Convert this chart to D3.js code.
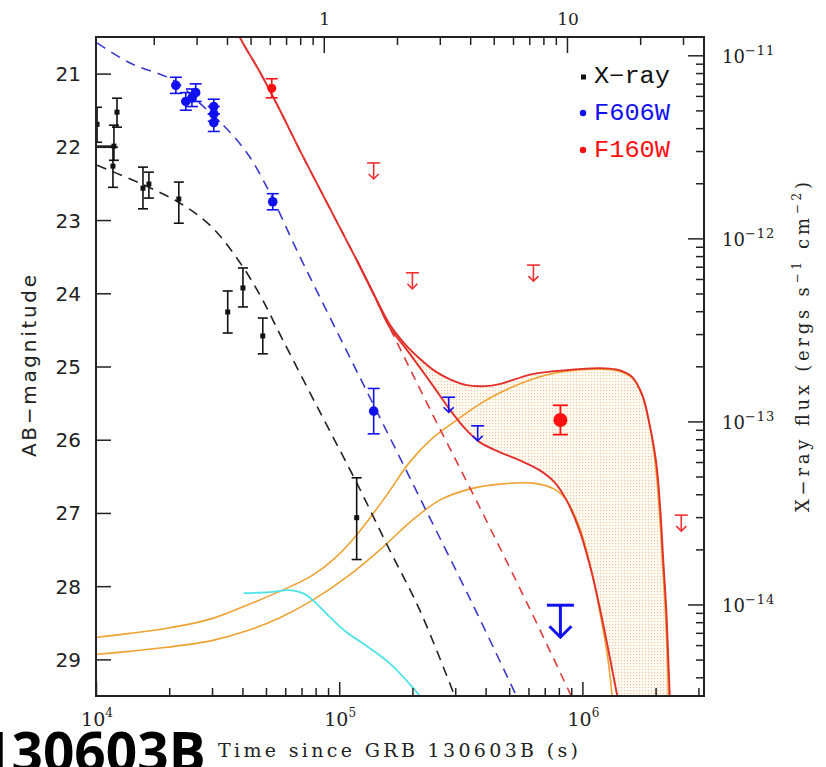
<!DOCTYPE html>
<html><head><meta charset="utf-8">
<script src="https://cdn.jsdelivr.net/npm/d3@7"></script>
<style>body{margin:0;background:#fff}svg{display:block}</style>
</head><body><svg id="c" width="826" height="767"></svg>
<script>
// ---------------- DATA ----------------
// X-ray (flux, erg s^-1 cm^-2)
const xrayT   = [1.01e4, 1.22e4, 1.185e4, 1.174e4, 1.56e4, 1.65e4, 2.19e4, 3.48e4, 4.02e4, 4.85e4, 1.18e5];
const xrayF   = [4.20e-12, 4.89e-12, 3.19e-12, 2.48e-12, 1.88e-12, 1.98e-12, 1.64e-12, 3.96e-13, 5.36e-13, 2.93e-13, 2.98e-14];
const xrayFhi = [5.20e-12, 5.83e-12, 4.15e-12, 3.15e-12, 2.45e-12, 2.30e-12, 2.03e-12, 5.16e-13, 6.89e-13, 3.67e-13, 4.92e-14];
const xrayFlo = [3.35e-12, 4.05e-12, 2.67e-12, 1.90e-12, 1.45e-12, 1.66e-12, 1.21e-12, 3.04e-13, 4.22e-13, 2.34e-13, 1.76e-14];
const xrayTlo = [null, null, 1.0e4, null, null, null, null, null, null, null, null];
// F606W (AB mag)
const f606T = [2.13e4, 2.34e4, 2.48e4, 2.57e4, 3.05e4, 3.05e4, 3.05e4, 5.33e4, 1.386e5];
const f606M = [21.16, 21.38, 21.33, 21.26, 21.45, 21.55, 21.67, 22.75, 25.61];
const f606E = [0.11, 0.12, 0.12, 0.12, 0.10, 0.10, 0.12, 0.11, 0.31];
const f606LimT = [2.82e5, 3.71e5];
const f606LimM = [25.42, 25.81];
const f606DeepLimT = [8.12e5];
const f606DeepLimM = [28.26];
// F160W (AB mag)
const f160T = [5.28e4];
const f160M = [21.20];
const f160E = [0.13];
const f160LateT = [8.12e5];
const f160LateM = [25.73];
const f160LateE = [0.20];
const f160LimT = [1.386e5, 2.0e5, 6.29e5, 2.55e6];
const f160LimM = [22.22, 23.72, 23.615, 27.03];
// model curves
const xrayModelT = [1.01e4, 1.516e4, 2.21e4, 2.94e4, 3.79e4, 4.72e4, 5.86e4, 8.32e4, 1.18e5, 1.61e5, 2.14e5, 2.98e5];
const xrayModelF = [2.51e-12, 2.00e-12, 1.56e-12, 1.18e-12, 7.82e-13, 4.91e-13, 2.79e-13, 1.13e-13, 4.62e-14, 1.99e-14, 9.37e-15, 3.18e-15];
const f606ModelT = [1.01e4, 1.379e4, 2.07e4, 2.67e4, 3.55e4, 4.29e4, 5.04e4, 5.54e4, 6.69e4, 1.005e5, 1.467e5, 2.20e5, 3.44e5, 5.36e5];
const f606ModelM = [20.58, 20.855, 21.087, 21.402, 21.798, 22.139, 22.549, 22.822, 23.41, 24.598, 25.691, 26.866, 28.164, 29.503];
const agT = [3.6e4, 3.90e4, 4.72e4, 5.70e4, 6.88e4, 9.14e4, 1.18e5, 1.61e5, 2.35e5, 3.78e5, 6.06e5, 9.01e5];
const agM = [20.2, 20.5, 20.978, 21.497, 22.044, 22.836, 23.546, 24.462, 25.568, 26.921, 28.30, 29.503];
const redUpT = [3.6e4, 3.90e4, 4.72e4, 5.70e4, 6.88e4, 9.14e4, 1.18e5, 1.40e5, 1.61e5, 1.86e5, 2.14e5, 2.47e5, 2.84e5, 3.34e5, 3.96e5, 4.56e5, 6.23e5, 8.60e5, 1.174e6, 1.419e6, 1.605e6, 1.764e6, 1.885e6, 2.013e6, 2.091e6, 2.150e6, 2.213e6, 2.256e6, 2.290e6];
const redUpM = [20.2, 20.5, 20.978, 21.497, 22.044, 22.836, 23.546, 24.038, 24.42, 24.69, 24.89, 25.06, 25.172, 25.254, 25.268, 25.240, 25.104, 25.049, 25.022, 25.049, 25.145, 25.391, 25.773, 26.320, 26.962, 27.645, 28.328, 29.011, 29.55];
const redLowT = [1.18e5, 1.40e5, 1.61e5, 1.86e5, 2.14e5, 2.42e5, 2.82e5, 3.28e5, 3.78e5, 4.56e5, 5.51e5, 6.66e5, 7.67e5, 8.60e5, 9.72e5, 1.099e6, 1.208e6, 1.303e6, 1.40e6];
const redLowM = [23.546, 24.04, 24.462, 24.735, 25.008, 25.254, 25.568, 25.842, 26.033, 26.169, 26.279, 26.415, 26.579, 26.825, 27.235, 27.85, 28.464, 29.011, 29.55];
const knUpT = [1.01e4, 1.379e4, 1.957e4, 3.02e4, 4.17e4, 6.26e4, 7.78e4, 9.58e4, 1.18e5, 1.567e5, 1.948e5, 2.42e5, 3.04e5, 3.78e5, 4.56e5, 5.51e5, 7.11e5, 8.60e5, 1.174e6, 1.419e6, 1.605e6, 1.764e6, 1.885e6, 1.994e6, 2.071e6, 2.131e6, 2.192e6, 2.234e6, 2.26e6];
const knUpM = [28.697, 28.645, 28.575, 28.44, 28.26, 28.01, 27.85, 27.62, 27.30, 26.757, 26.306, 25.978, 25.732, 25.514, 25.363, 25.240, 25.117, 25.063, 25.036, 25.063, 25.158, 25.404, 25.787, 26.32, 26.962, 27.645, 28.328, 29.011, 29.55];
const knLowT = [1.01e4, 1.379e4, 1.957e4, 3.02e4, 4.17e4, 5.70e4, 7.78e4, 1.073e5, 1.467e5, 2.00e5, 2.59e5, 3.43e5, 4.56e5, 6.23e5, 7.67e5, 8.60e5, 9.72e5, 1.089e6, 1.186e6, 1.267e6, 1.33e6];
const knLowM = [28.929, 28.89, 28.835, 28.74, 28.61, 28.43, 28.19, 27.877, 27.508, 27.098, 26.825, 26.675, 26.607, 26.593, 26.675, 26.825, 27.194, 27.781, 28.396, 28.943, 29.55];
const cyanT = [4.05e4, 5.18e4, 6.26e4, 7.08e4, 7.78e4, 9.14e4, 1.073e5, 1.249e5, 1.61e5, 2.00e5, 2.20e5];
const cyanM = [28.096, 28.082, 28.055, 28.096, 28.19, 28.42, 28.63, 28.78, 29.05, 29.38, 29.55];
// ticks
const magTicks = [21, 22, 23, 24, 25, 26, 27, 28, 29];
const timeMajor = [1e4, 1e5, 1e6];
const timeMinor = [2e4,3e4,4e4,5e4,6e4,7e4,8e4,9e4,2e5,3e5,4e5,5e5,6e5,7e5,8e5,9e5,2e6,3e6];
const dayMajor = [1, 10];
const dayMinor = [0.2,0.3,0.4,0.5,0.6,0.7,0.8,0.9,2,3,4,5,6,7,8,9,20,30];
const fluxMajor = [1e-11, 1e-12, 1e-13, 1e-14];
const fluxMinor = [9e-12,8e-12,7e-12,6e-12,5e-12,4e-12,3e-12,2e-12,9e-13,8e-13,7e-13,6e-13,5e-13,4e-13,3e-13,2e-13,9e-14,8e-14,7e-14,6e-14,5e-14,4e-14,3e-14,2e-14,9e-15,8e-15,7e-15,6e-15,5e-15,4e-15];
const legendLabels = ["X\u2212ray", "F606W", "F160W"];

// ---------------- SCALES ----------------
const L = 96, R = 704, T = 37, B = 696;
const x = d3.scaleLog().domain([1e4, Math.pow(10, 6.5)]).range([L, R]);
const xd = d3.scaleLog().domain([1e4 / 86400, Math.pow(10, 6.5) / 86400]).range([L, R]);
const ym = d3.scaleLinear().domain([20.5, 29.5]).range([T, B]);
const yf = d3.scaleLog().domain([Math.pow(10, -10.9), Math.pow(10, -14.5)]).range([T, B]);

const svg = d3.select("#c");
const defs = svg.append("defs");
defs.append("clipPath").attr("id", "clip").append("rect").attr("x", L).attr("y", T).attr("width", R - L).attr("height", B - T);
const pat = defs.append("pattern").attr("id", "dots").attr("width", 3).attr("height", 3).attr("patternUnits", "userSpaceOnUse");
pat.append("rect").attr("width", 3).attr("height", 3).attr("fill", "#fffaf3");
pat.append("rect").attr("width", 1.1).attr("height", 1.1).attr("fill", "#f4c796");

const RED = "#ff1010", BLUE = "#1010f0", ORANGE = "#eea232", CYAN = "#4fe3e6";
const SERIF = "DejaVu Serif";
const lineM = d3.line().x(d => x(d[0])).y(d => ym(d[1])).curve(d3.curveCatmullRom.alpha(0.5));
const lineF = d3.line().x(d => x(d[0])).y(d => yf(d[1])).curve(d3.curveCatmullRom.alpha(0.5));

const plot = svg.append("g").attr("clip-path", "url(#clip)");

// shaded kilonova range
const upPts = d3.zip(redUpT, redUpM).filter(d => d[0] >= 1.40e5);
const lowRev = d3.zip(redLowT, redLowM).filter(d => d[0] >= 1.40e5).reverse();
plot.append("path").attr("d", lineM(upPts) + lineM(lowRev).replace(/^M/, "L") + "Z")
  .attr("fill", "url(#dots)").attr("stroke", "none");

// kilonova curves
plot.append("path").attr("d", lineM(d3.zip(knUpT, knUpM))).attr("fill", "none").attr("stroke", ORANGE).attr("stroke-width", 1.6);
plot.append("path").attr("d", lineM(d3.zip(knLowT, knLowM))).attr("fill", "none").attr("stroke", ORANGE).attr("stroke-width", 1.6);
plot.append("path").attr("d", lineM(d3.zip(cyanT, cyanM))).attr("fill", "none").attr("stroke", CYAN).attr("stroke-width", 1.8);

// afterglow dashed models
plot.append("path").attr("d", lineF(d3.zip(xrayModelT, xrayModelF))).attr("fill", "none").attr("stroke", "#222").attr("stroke-width", 1.6).attr("stroke-dasharray", "10,7");
plot.append("path").attr("d", lineM(d3.zip(f606ModelT, f606ModelM))).attr("fill", "none").attr("stroke", "#3a3acc").attr("stroke-width", 1.6).attr("stroke-dasharray", "10,7");
plot.append("path").attr("d", lineM(d3.zip(agT, agM))).attr("fill", "none").attr("stroke", "#e03a3a").attr("stroke-width", 1.6).attr("stroke-dasharray", "9,7");

// red total models
plot.append("path").attr("d", lineM(d3.zip(redLowT, redLowM))).attr("fill", "none").attr("stroke", "#e2302c").attr("stroke-width", 1.9);
plot.append("path").attr("d", lineM(d3.zip(redUpT, redUpM))).attr("fill", "none").attr("stroke", "#e2302c").attr("stroke-width", 1.9);

// helpers
function errbar(g, cx, y1, y2, cap, color, w) {
  g.append("line").attr("x1", cx).attr("x2", cx).attr("y1", y1).attr("y2", y2).attr("stroke", color).attr("stroke-width", w);
  [y1, y2].forEach(yy => g.append("line").attr("x1", cx - cap).attr("x2", cx + cap).attr("y1", yy).attr("y2", yy).attr("stroke", color).attr("stroke-width", w));
}
function limit(g, cx, cy, wBar, len, head, color, w) {
  g.append("line").attr("x1", cx - wBar).attr("x2", cx + wBar).attr("y1", cy).attr("y2", cy).attr("stroke", color).attr("stroke-width", w);
  g.append("line").attr("x1", cx).attr("x2", cx).attr("y1", cy).attr("y2", cy + len).attr("stroke", color).attr("stroke-width", w);
  g.append("polyline").attr("points", `${cx - head},${cy + len - head} ${cx},${cy + len} ${cx + head},${cy + len - head}`)
    .attr("fill", "none").attr("stroke", color).attr("stroke-width", w);
}

const pts = svg.append("g").attr("clip-path", "url(#clip)");
// X-ray
xrayT.forEach((t, i) => {
  errbar(pts, x(t), yf(xrayFhi[i]), yf(xrayFlo[i]), 5, "#111", 1.6);
  if (xrayTlo[i]) pts.append("line").attr("x1", x(xrayTlo[i])).attr("x2", x(t)).attr("y1", yf(xrayF[i])).attr("y2", yf(xrayF[i])).attr("stroke", "#111").attr("stroke-width", 1.6);
  pts.append("rect").attr("x", x(t) - 2.5).attr("y", yf(xrayF[i]) - 2.5).attr("width", 5).attr("height", 5).attr("fill", "#111");
});
// F606W
f606T.forEach((t, i) => {
  errbar(pts, x(t), ym(f606M[i] - f606E[i]), ym(f606M[i] + f606E[i]), 6, BLUE, 1.6);
  pts.append("circle").attr("cx", x(t)).attr("cy", ym(f606M[i])).attr("r", 4.8).attr("fill", BLUE);
});
f606LimT.forEach((t, i) => limit(pts, x(t), ym(f606LimM[i]), 6.5, 15, 5, BLUE, 1.6));
f606DeepLimT.forEach((t, i) => limit(pts, x(t), ym(f606DeepLimM[i]), 13.5, 32, 11, BLUE, 3));
// F160W
f160T.forEach((t, i) => {
  errbar(pts, x(t), ym(f160M[i] - f160E[i]), ym(f160M[i] + f160E[i]), 6, RED, 1.6);
  pts.append("circle").attr("cx", x(t)).attr("cy", ym(f160M[i])).attr("r", 4.5).attr("fill", RED);
});
f160LateT.forEach((t, i) => {
  errbar(pts, x(t), ym(f160LateM[i] - f160LateE[i]), ym(f160LateM[i] + f160LateE[i]), 7.5, RED, 1.8);
  pts.append("circle").attr("cx", x(t)).attr("cy", ym(f160LateM[i])).attr("r", 7).attr("fill", RED);
});
f160LimT.forEach((t, i) => limit(pts, x(t), ym(f160LimM[i]), 6.5, 16, 5, "#f03030", 1.6));

// ---------------- AXES ----------------
function ax(gen, tx, ty) {
  const g = svg.append("g").attr("transform", `translate(${tx},${ty})`).call(gen);
  g.select(".domain").remove();
  g.selectAll(".tick line").attr("stroke", "#222").attr("stroke-width", 1.5);
  g.selectAll("text").remove();
  return g;
}
ax(d3.axisBottom(x).tickValues(timeMajor).tickSize(-14), 0, B);
ax(d3.axisBottom(x).tickValues(timeMinor).tickSize(-8), 0, B);
ax(d3.axisTop(xd).tickValues(dayMajor).tickSize(-16), 0, T);
ax(d3.axisTop(xd).tickValues(dayMinor).tickSize(-8), 0, T);
ax(d3.axisLeft(ym).tickValues(magTicks).tickSize(-15), L, 0);
ax(d3.axisRight(yf).tickValues(fluxMajor).tickSize(-16), R, 0);
ax(d3.axisRight(yf).tickValues(fluxMinor).tickSize(-8), R, 0);

svg.append("rect").attr("x", L).attr("y", T).attr("width", R - L).attr("height", B - T)
  .attr("fill", "none").attr("stroke", "#222").attr("stroke-width", 2);

// left tick labels
magTicks.forEach(m => svg.append("text").attr("x", 81).attr("y", ym(m) + 7.5).attr("text-anchor", "end")
  .attr("font-family", "DejaVu Sans").attr("font-size", 20).attr("fill", "#222").text(m));
// bottom labels
timeMajor.forEach(t => {
  const tx = svg.append("text").attr("x", x(t) + 1).attr("y", 726).attr("text-anchor", "middle")
    .attr("font-family", SERIF).attr("font-size", 19).attr("fill", "#222");
  tx.append("tspan").text("10");
  tx.append("tspan").attr("dy", -9).attr("font-size", 12).text(Math.round(Math.log10(t)));
});
// top labels
dayMajor.forEach(d => svg.append("text").attr("x", xd(d) + 1).attr("y", 25).attr("text-anchor", "middle")
  .attr("font-family", SERIF).attr("font-size", 17).attr("fill", "#222").text(d));
// right labels
fluxMajor.forEach(f => {
  const tx = svg.append("text").attr("x", 722).attr("y", yf(f) + 8)
    .attr("font-family", SERIF).attr("font-size", 18).attr("fill", "#222");
  tx.append("tspan").text("10");
  tx.append("tspan").attr("dy", -8).attr("font-size", 13).attr("letter-spacing", 1).text("\u2212" + Math.round(-Math.log10(f)));
});
// axis titles
svg.append("text").attr("transform", "translate(36,366) rotate(-90)").attr("text-anchor", "middle")
  .attr("font-family", "DejaVu Sans").attr("font-size", 20).attr("fill", "#222")
  .attr("textLength", 182).attr("lengthAdjust", "spacing").text("AB\u2212magnitude");
svg.append("text").attr("x", 218).attr("y", 757)
  .attr("font-family", SERIF).attr("font-size", 19).attr("fill", "#222")
  .attr("textLength", 360).attr("lengthAdjust", "spacing").text("Time since GRB 130603B (s)");
const rt = svg.append("text").attr("transform", "translate(809,347) rotate(-90)").attr("text-anchor", "middle")
  .attr("font-family", SERIF).attr("font-size", 18).attr("fill", "#222")
  .attr("textLength", 330).attr("lengthAdjust", "spacing");
rt.append("tspan").text("X\u2212ray flux (ergs s");
rt.append("tspan").attr("dy", -8).attr("font-size", 12).text("\u22121");
rt.append("tspan").attr("dy", 8).text(" cm");
rt.append("tspan").attr("dy", -8).attr("font-size", 12).text("\u22122");
rt.append("tspan").attr("dy", 8).text(")");

// legend
const legColors = ["#111", BLUE, RED];
const legY = [83, 120, 157];
legendLabels.forEach((lab, i) => {
  if (i === 0) svg.append("rect").attr("x", 581).attr("y", legY[i] - 8.5).attr("width", 5).attr("height", 5).attr("fill", legColors[i]);
  else svg.append("circle").attr("cx", 583).attr("cy", legY[i] - 7).attr("r", 3.2).attr("fill", legColors[i]);
  svg.append("text").attr("x", 594).attr("y", legY[i]).attr("font-family", "Liberation Mono").attr("font-size", 23)
    .attr("fill", legColors[i]).attr("textLength", 76).attr("lengthAdjust", "spacingAndGlyphs").text(lab);
});

// big slide text fragment
svg.append("text").attr("x", -20).attr("y", 772).attr("font-family", "Open Sans").attr("font-weight", "bold")
  .attr("font-size", 55).attr("fill", "#000").text("130603B");
</script></body></html>
